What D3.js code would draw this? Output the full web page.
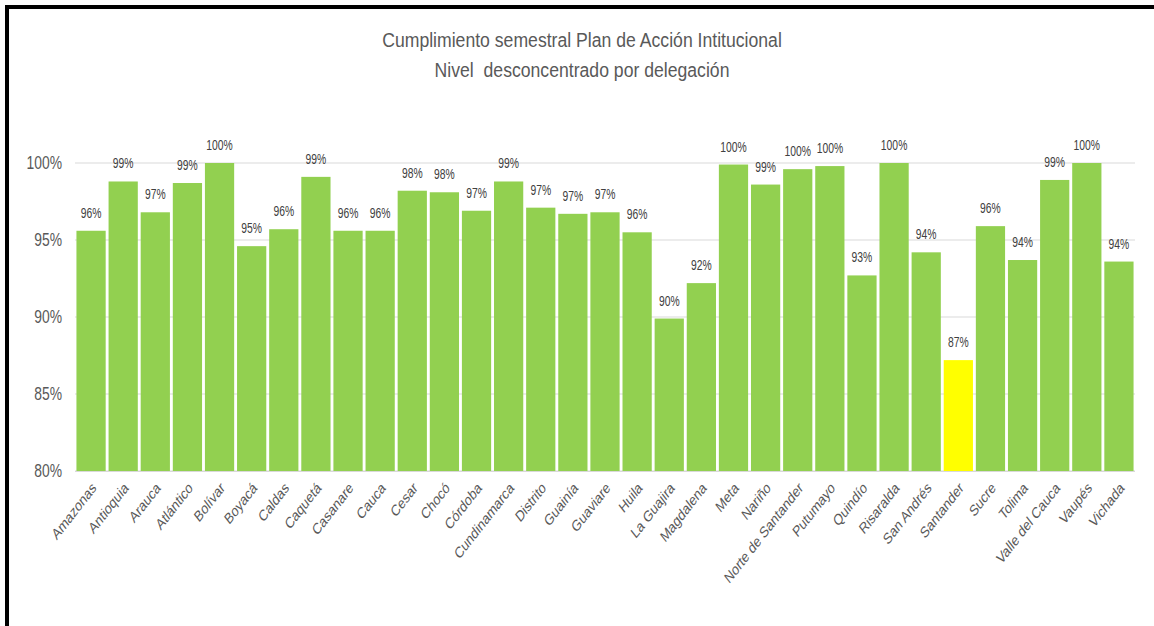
<!DOCTYPE html>
<html>
<head>
<meta charset="utf-8">
<script src="https://cdn.jsdelivr.net/npm/d3@7/dist/d3.min.js"></script>
<style>
html,body{margin:0;padding:0;background:#fff;}
svg{display:block;}
</style>
</head>
<body>
<svg id="chart" width="1154" height="626"></svg>
<script>
const titleLines = ["Cumplimiento semestral Plan de Acción Intitucional", "Nivel  desconcentrado por delegación"];
const categories = ["Amazonas","Antioquia","Arauca","Atlántico","Bolívar","Boyacá","Caldas","Caquetá","Casanare","Cauca","Cesar","Chocó","Córdoba","Cundinamarca","Distrito","Guainía","Guaviare","Huila","La Guajira","Magdalena","Meta","Nariño","Norte de Santander","Putumayo","Quindío","Risaralda","San Andrés","Santander","Sucre","Tolima","Valle del Cauca","Vaupés","Vichada"];
const values = [95.6,98.8,96.8,98.7,100,94.6,95.7,99.1,95.6,95.6,98.2,98.1,96.9,98.8,97.1,96.7,96.8,95.5,89.9,92.2,99.9,98.6,99.6,99.8,92.7,100,94.2,87.2,95.9,93.7,98.9,100,93.6];
const highlighted = ["Santander"];
const yTicks = [80,85,90,95,100];

const font = "'Liberation Sans',Arial,sans-serif";
const svg = d3.select("#chart");
const W = 1154, H = 626;
const m = {left: 75, right: 19, top: 163, bottom: 155};

// border
svg.append("rect").attr("x",5).attr("y",5).attr("width",W).attr("height",4).attr("fill","#000");
svg.append("rect").attr("x",5).attr("y",5).attr("width",4).attr("height",H).attr("fill","#000");

const x = d3.scaleBand().domain(categories).range([m.left, W - m.right]).paddingInner(0.09).paddingOuter(0.045);
const y = d3.scaleLinear().domain([80,100]).range([H - m.bottom, m.top]);

// gridlines
svg.append("g").selectAll("line").data(yTicks).join("line")
  .attr("x1", m.left).attr("x2", W - m.right)
  .attr("y1", d => y(d)).attr("y2", d => y(d))
  .attr("stroke", "#d9d9d9").attr("stroke-width", 1);

// y axis labels
const yAxis = d3.axisLeft(y).tickValues(yTicks).tickSize(0).tickPadding(0).tickFormat(d => d + "%");
const gy = svg.append("g").attr("transform", `translate(${m.left - 13},0)`).call(yAxis);
gy.select(".domain").remove();
gy.selectAll("text").attr("font-family", font).attr("font-size", 18).attr("fill", "#595959")
  .attr("transform", "scale(0.77,1)");

// bars
const data = categories.map((c,i) => ({c, v: values[i]}));
svg.append("g").selectAll("rect").data(data).join("rect")
  .attr("x", d => x(d.c)).attr("width", x.bandwidth())
  .attr("y", d => y(d.v)).attr("height", d => y(80) - y(d.v))
  .attr("fill", d => highlighted.includes(d.c) ? "#ffff00" : "#92d050");

// baseline
svg.append("line").attr("x1", m.left).attr("x2", W - m.right)
  .attr("y1", y(80)+0.5).attr("y2", y(80)+0.5).attr("stroke", "#d9d9d9");

// value labels
svg.append("g").selectAll("text").data(data).join("text")
  .attr("transform", d => `translate(${x(d.c) + x.bandwidth()/2},${y(d.v) - 13}) scale(0.74,1)`)
  .attr("text-anchor", "middle")
  .attr("font-family", font).attr("font-size", 14).attr("fill", "#404040")
  .text(d => Math.round(d.v) + "%");

// x axis labels
const xAxis = d3.axisBottom(x).tickSize(0).tickPadding(0);
const gx = svg.append("g").attr("transform", `translate(0,${y(80)})`).call(xAxis);
gx.select(".domain").remove();
gx.selectAll(".tick").attr("transform", d => `translate(${x(d) + x.bandwidth()/2 + 3},14)`);
gx.selectAll("text")
  .attr("font-family", font).attr("font-size", 15.5).attr("fill", "#595959")
  .attr("text-anchor", "end")
  .attr("y", 0).attr("dy", "0.35em")
  .attr("transform", "scale(0.78,1) rotate(-45)");

// title
svg.append("g").selectAll("text").data(titleLines).join("text")
  .attr("transform", (d,i) => `translate(582,${47 + i*30}) scale(0.84,1)`)
  .attr("text-anchor", "middle").style("white-space", "pre")
  .attr("font-family", font).attr("font-size", 21).attr("fill", "#595959")
  .text(d => d);
</script>
</body>
</html>
